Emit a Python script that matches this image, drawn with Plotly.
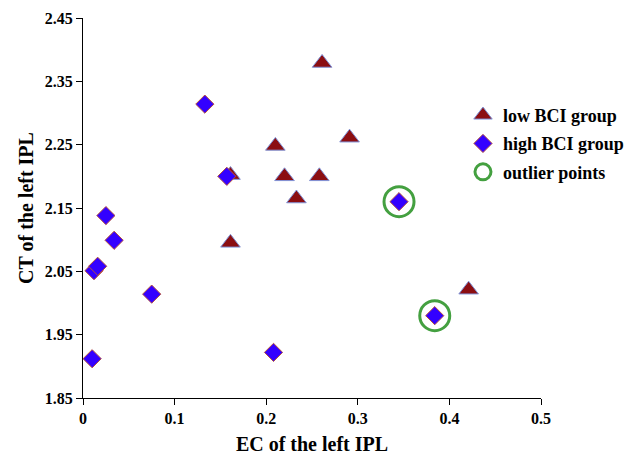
import plotly.graph_objects as go

# Low BCI group (triangles)
low_x = [0.261, 0.210, 0.291, 0.161, 0.220, 0.258, 0.233, 0.161, 0.421]
low_y = [2.379, 2.248, 2.261, 2.202, 2.200, 2.200, 2.165, 2.095, 2.021]

# High BCI group (diamonds)
high_x = [0.133, 0.157, 0.025, 0.034, 0.012, 0.016, 0.075, 0.010, 0.208, 0.345, 0.384]
high_y = [2.314, 2.200, 2.138, 2.099, 2.051, 2.058, 2.014, 1.912, 1.922, 2.160, 1.980]

# Outlier points (circled)
out_x = [0.345, 0.384]
out_y = [2.160, 1.980]

x_ticks = [0, 0.1, 0.2, 0.3, 0.4, 0.5]
x_labels = ["0", "0.1", "0.2", "0.3", "0.4", "0.5"]
y_ticks = [1.85, 1.95, 2.05, 2.15, 2.25, 2.35, 2.45]
y_labels = ["1.85", "1.95", "2.05", "2.15", "2.25", "2.35", "2.45"]

FONT = "Liberation Serif, Times New Roman, serif"

fig = go.Figure()
fig.add_trace(go.Scatter(
    x=low_x, y=low_y, mode="markers", name="low BCI group", legendgroup="a",
    marker=dict(symbol="triangle-up", size=17, color="#8b0e12",
                line=dict(color="#7f93d8", width=1)),
))
fig.add_trace(go.Scatter(
    x=high_x, y=high_y, mode="markers", name="high BCI group", legendgroup="b",
    marker=dict(symbol="diamond", size=14, color="#3300ff",
                line=dict(color="#b5503f", width=1)),
))
fig.add_trace(go.Scatter(
    x=out_x, y=out_y, mode="markers", name="outlier points", legendgroup="c",
    marker=dict(symbol="circle-open", size=30, color="#44a040",
                line=dict(color="#44a040", width=3)),
))

axis_common = dict(
    showline=True, linecolor="black", linewidth=1,
    ticks="outside", ticklen=6, tickcolor="black",
    showgrid=False, zeroline=False, automargin=False,
    tickfont=dict(family=FONT, size=16, color="black", weight="bold"),
)

fig.update_layout(
    width=633, height=459,
    margin=dict(l=82.5, r=92, t=18, b=61, autoexpand=False),
    paper_bgcolor="white", plot_bgcolor="white",
    font=dict(family=FONT, color="black"),
    xaxis=dict(range=[0, 0.5], tickvals=x_ticks, ticktext=x_labels,
               title=dict(text="EC of the left IPL", standoff=10,
                          font=dict(family=FONT, size=20, color="black", weight="bold")),
               **axis_common),
    yaxis=dict(range=[1.85, 2.45], tickvals=y_ticks, ticktext=y_labels,
               title=dict(text="CT of the left IPL", standoff=5,
                          font=dict(family=FONT, size=20, color="black", weight="bold")),
               **axis_common),
    legend=dict(xref="container", yref="container", x=0.7314, xanchor="left",
                y=0.789, yanchor="top",
                font=dict(family=FONT, size=18, color="black", weight="bold"),
                bgcolor="rgba(0,0,0,0)", tracegroupgap=2, itemsizing="trace"),
    showlegend=True,
)

fig.write_html("out.html")
